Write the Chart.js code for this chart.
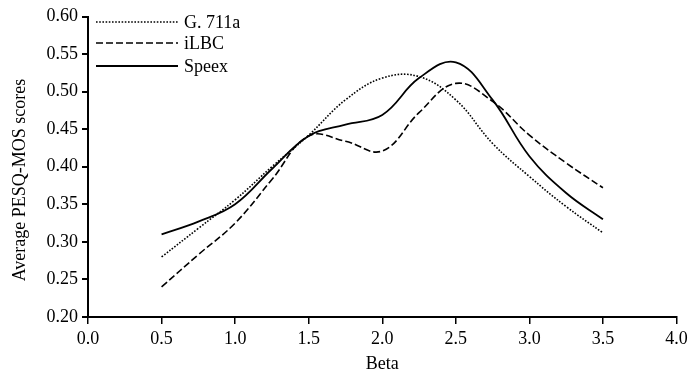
<!DOCTYPE html>
<html>
<head>
<meta charset="utf-8">
<script src="https://cdn.jsdelivr.net/npm/chart.js@4"></script>
<style>
  html, body { margin: 0; padding: 0; background: #fff; }
  #wrap { width: 688px; height: 375px; }
</style>
</head>
<body>
<div id="wrap"><canvas id="pesqChart" width="688" height="375"></canvas></div>
<script>
// values
const betas  = [0.5, 0.75, 1.0, 1.25, 1.5, 1.75, 2.0, 2.25, 2.5, 2.75, 3.0, 3.25, 3.5];
const g711a  = [0.280, 0.318, 0.356, 0.400, 0.442, 0.489, 0.518, 0.520, 0.489, 0.431, 0.387, 0.347, 0.312];
const ilbc   = [0.240, 0.283, 0.325, 0.383, 0.441, 0.434, 0.421, 0.472, 0.511, 0.487, 0.442, 0.405, 0.372];
const speex  = [0.310, 0.327, 0.350, 0.397, 0.441, 0.456, 0.469, 0.518, 0.539, 0.489, 0.414, 0.365, 0.330];
const seriesNames = ['G. 711a', 'iLBC', 'Speex'];
const xTicks = [0, 0.5, 1, 1.5, 2, 2.5, 3, 3.5, 4];
const yTicks = [0.20, 0.25, 0.30, 0.35, 0.40, 0.45, 0.50, 0.55, 0.60];

const FONT = '"Liberation Serif", "DejaVu Serif", serif';

const toPts = ys => betas.map((b, i) => ({ x: b, y: ys[i] }));

// legend inside the plot (top left) and the y title, which sits a bit low in the original
const extras = {
  id: 'extras',
  afterDraw(chart) {
    const ctx = chart.ctx;
    const x0 = chart.chartArea.left + 8;
    const rows = [22, 43, 66];
    ctx.save();
    ctx.font = '18px ' + FONT;
    ctx.textBaseline = 'middle';
    chart.data.datasets.forEach((ds, i) => {
      const y = rows[i];
      ctx.strokeStyle = '#000';
      ctx.lineWidth = ds.borderWidth;
      ctx.setLineDash(ds.borderDash || []);
      ctx.beginPath();
      ctx.moveTo(x0, y);
      ctx.lineTo(x0 + 82, y);
      ctx.stroke();
      ctx.setLineDash([]);
      ctx.fillStyle = '#000';
      ctx.fillText(ds.label, x0 + 88, y + 1);
    });

    ctx.translate(20, 180);
    ctx.rotate(-Math.PI / 2);
    ctx.textAlign = 'center';
    ctx.fillText('Average PESQ-MOS scores', 0, 0);
    ctx.restore();
  }
};

new Chart(document.getElementById('pesqChart'), {
  type: 'line',
  data: {
    datasets: [
      { label: seriesNames[0], data: toPts(g711a), borderColor: '#000', borderWidth: 1.6, borderDash: [1.6, 1.6] },
      { label: seriesNames[1], data: toPts(ilbc),  borderColor: '#000', borderWidth: 1.6, borderDash: [7, 3] },
      { label: seriesNames[2], data: toPts(speex), borderColor: '#000', borderWidth: 1.8 }
    ]
  },
  options: {
    responsive: false,
    animation: false,
    elements: { point: { radius: 0 }, line: { tension: 0.4, fill: false } },
    layout: { padding: { left: 4, right: 11.5, top: 16.5, bottom: 0 } },
    plugins: { legend: { display: false }, tooltip: { enabled: false } },
    scales: {
      x: {
        type: 'linear', min: 0, max: 4,
        afterBuildTicks: s => { s.ticks = xTicks.map(v => ({ value: v })); },
        afterFit: s => { s.height = 58; s.paddingRight = 0; s.paddingLeft = 0; },
        ticks: { color: '#000', font: { family: FONT, size: 18 }, padding: 4,
                 callback: v => v.toFixed(1) },
        grid: { display: true, drawOnChartArea: false, drawTicks: true, tickLength: 7, color: '#000', lineWidth: 1.5 },
        border: { display: true, color: '#000', width: 2 },
        title: { display: true, text: 'Beta', color: '#000', font: { family: FONT, size: 18 }, padding: { top: 2, bottom: 0 } }
      },
      y: {
        type: 'linear', min: 0.2, max: 0.6,
        afterBuildTicks: s => { s.ticks = yTicks.map(v => ({ value: v })); },
        afterFit: s => { s.width = 84; s.paddingTop = 0; s.paddingBottom = 0; },
        ticks: { color: '#000', font: { family: FONT, size: 18 }, padding: 4,
                 callback: v => v.toFixed(2) },
        grid: { display: true, drawOnChartArea: false, drawTicks: true, tickLength: 6, color: '#000', lineWidth: 2 },
        border: { display: true, color: '#000', width: 2 },
        title: { display: false }
      }
    }
  },
  plugins: [extras]
});
</script>
</body>
</html>
